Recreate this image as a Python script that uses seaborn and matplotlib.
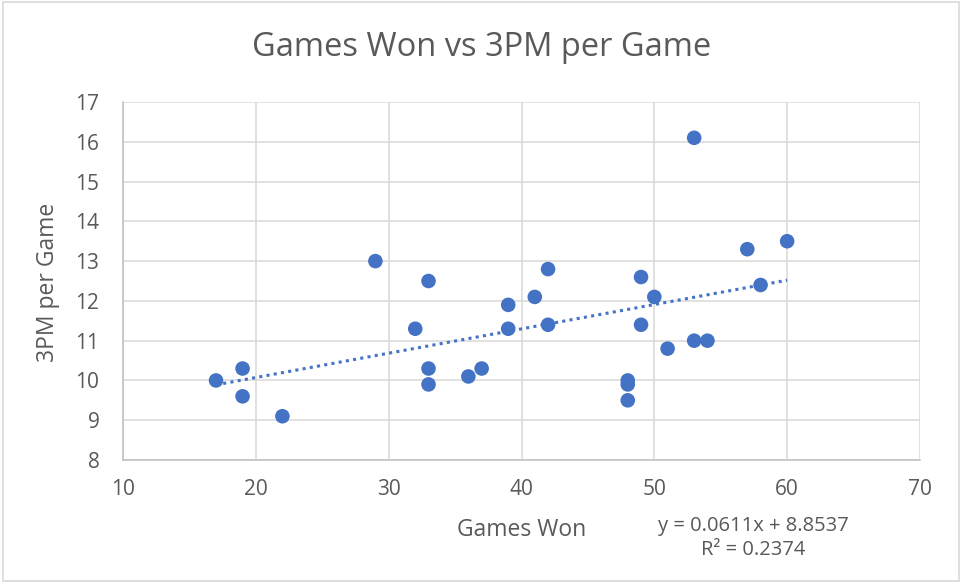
import matplotlib
matplotlib.use("Agg")
import matplotlib.pyplot as plt
import seaborn as sns
import pandas as pd
from matplotlib.patches import Rectangle

games_won = [17, 19, 19, 22, 29, 32, 33, 33, 33, 36, 37, 39, 39, 41, 42, 42,
             48, 48, 48, 49, 49, 50, 51, 53, 53, 54, 57, 58, 60]
threes_pg = [10.0, 10.3, 9.6, 9.1, 13.0, 11.3, 12.5, 10.3, 9.9, 10.1, 10.3, 11.9, 11.3, 12.1, 12.8, 11.4,
             10.0, 9.9, 9.5, 12.6, 11.4, 12.1, 10.8, 16.1, 11.0, 11.0, 13.3, 12.4, 13.5]
x_ticks = [10, 20, 30, 40, 50, 60, 70]
y_ticks = [8, 9, 10, 11, 12, 13, 14, 15, 16, 17]

df = pd.DataFrame({"Games Won": games_won, "3PM per Game": threes_pg})

sns.set_style("white")
plt.rcParams["font.family"] = ["Open Sans", "DejaVu Sans"]

text_col = "#595959"
blue = "#4472C4"

fig = plt.figure(figsize=(9.62, 5.83), dpi=100)
ax = fig.add_axes([0.1279, 0.211, 0.8284, 0.614])

sns.regplot(data=df, x="Games Won", y="3PM per Game", ax=ax, ci=None, truncate=True,
            scatter_kws={"s": 110, "color": blue, "edgecolor": "none", "alpha": 1, "zorder": 3},
            line_kws={"color": blue, "linestyle": (0, (1, 1.4)), "linewidth": 2.2, "zorder": 4})

ax.set_xlim(10, 70)
ax.set_ylim(8, 17)
ax.set_xticks(x_ticks)
ax.set_yticks(y_ticks)
ax.grid(True, color="#D9D9D9", linewidth=1.1)
ax.set_axisbelow(True)
for side in ["top", "right"]:
    ax.spines[side].set_visible(False)
for side in ["left", "bottom"]:
    ax.spines[side].set_color("#BFBFBF")
    ax.spines[side].set_linewidth(1.1)
ax.tick_params(axis="both", length=0, labelsize=15, labelcolor=text_col)
ax.tick_params(axis="x", pad=14)
ax.tick_params(axis="y", pad=17)
ax.set_xlabel("")
ax.set_ylabel("")

fig.text(0.501, 0.918, "Games Won vs 3PM per Game", ha="center", va="center",
         fontsize=23.5, color=text_col)
fig.text(0.5421, 0.091, "Games Won", ha="center", va="center", fontsize=16.5, color=text_col)
fig.text(0.05, 0.516, "3PM per Game", ha="center", va="center", rotation=90,
         fontsize=16.5, color=text_col)
fig.text(0.783, 0.077, "y = 0.0611x + 8.8537\nR² = 0.2374", ha="center", va="center",
         fontsize=14.5, color=text_col, linespacing=1.3)

fig.patches.append(Rectangle((0.003, 0.003), 0.994, 0.994, transform=fig.transFigure,
                             fill=False, edgecolor="#D9D9D9", linewidth=1.2))

plt.savefig("out.png", dpi=100)
